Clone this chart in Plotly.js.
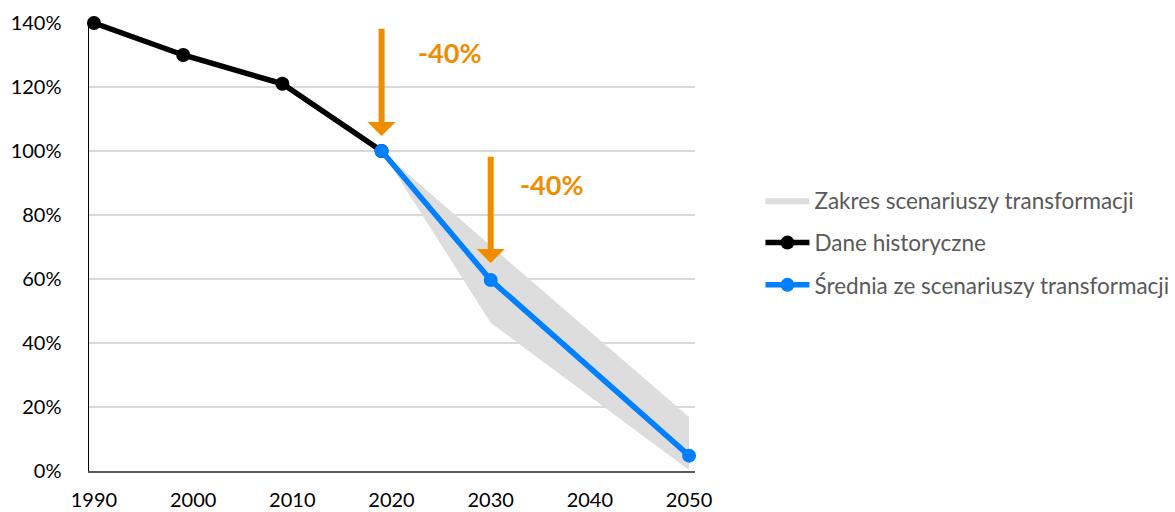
<!DOCTYPE html>
<html>
<head>
<meta charset="utf-8">
<script src="https://cdn.plot.ly/plotly-3.0.1.min.js"></script>
<style>html,body{margin:0;padding:0;background:#fff;}#chart{width:1175px;height:512px;}</style>
</head>
<body>
<div id="chart"></div>
<script>
// ---- data ----
const histYears = [1990, 1999, 2009, 2019];
const histValues = [140, 130, 121, 100];
const avgYears = [2019, 2030, 2050];
const avgValues = [100, 59.7, 4.8];
const bandYears = [2019, 2030, 2050];
const bandUpper = [100, 70.4, 16.9];
const bandLower = [100, 46.3, 0.3];
const xTickVals = [1990, 2000, 2010, 2020, 2030, 2040, 2050];
const yTickVals = [0, 20, 40, 60, 80, 100, 120, 140];
const seriesNames = ['Zakres scenariuszy transformacji', 'Dane historyczne', 'Średnia ze scenariuszy transformacji'];
const arrowYears = [2019, 2030];
const arrowFrom = [138.7, 98.7];
const arrowTo = [104.7, 65.0];
const labelYears = [2025.9, 2036.2];
const labelValues = [130.9, 89.4];
const labelTexts = ['-40%', '-40%'];

const FONT = 'Lato, "Open Sans", sans-serif';
const ORANGE = '#F08C00';

const bandX = bandYears.concat(bandYears.slice().reverse());
const bandY = bandUpper.concat(bandLower.slice().reverse());

const traces = [
  {
    x: bandX, y: bandY, type: 'scatter', mode: 'lines', fill: 'toself',
    fillcolor: '#DDDDDD', line: {width: 0, color: '#DDDDDD'},
    name: seriesNames[0], legendgroup: 'a', hoverinfo: 'skip'
  },
  {
    x: histYears, y: histValues, type: 'scatter', mode: 'lines+markers',
    line: {color: '#000000', width: 5.5}, marker: {color: '#000000', size: 14},
    name: seriesNames[1], legendgroup: 'b', cliponaxis: false
  },
  {
    x: avgYears, y: avgValues, type: 'scatter', mode: 'lines+markers',
    line: {color: '#0080FF', width: 5.5}, marker: {color: '#0080FF', size: 14},
    name: seriesNames[2], legendgroup: 'c', cliponaxis: false
  }
];

const annotations = [];
for (let i = 0; i < arrowYears.length; i++) {
  annotations.push({
    x: arrowYears[i], y: arrowTo[i], xref: 'x', yref: 'y',
    ax: arrowYears[i], ay: arrowFrom[i], axref: 'x', ayref: 'y',
    text: '', showarrow: true, arrowhead: 1, arrowsize: 0.78, arrowwidth: 6,
    arrowcolor: ORANGE
  });
  annotations.push({
    x: labelYears[i], y: labelValues[i], xref: 'x', yref: 'y',
    text: '<b>' + labelTexts[i] + '</b>', showarrow: false,
    font: {family: FONT, size: 27, color: ORANGE}
  });
}

const layout = {
  width: 1175, height: 512, autosize: false,
  margin: {l: 89, r: 480, t: 23, b: 41, pad: 0},
  paper_bgcolor: '#ffffff', plot_bgcolor: '#ffffff',
  showlegend: true,
  legend: {
    xref: 'container', yref: 'container', x: 0.6472, y: 0.650,
    xanchor: 'left', yanchor: 'top',
    traceorder: 'grouped', tracegroupgap: 10, itemwidth: 44,
    font: {family: FONT, size: 22.5, color: '#595959'},
    bgcolor: 'rgba(0,0,0,0)'
  },
  xaxis: {
    type: 'linear', range: [1989.5, 2050.6],
    tickvals: xTickVals, ticktext: xTickVals.map(String),
    showgrid: false, zeroline: false, showline: true,
    linecolor: '#595959', linewidth: 2, ticks: '',
    ticklabelstandoff: 10,
    tickfont: {family: FONT, size: 20, color: '#000000'}
  },
  yaxis: {
    range: [0, 140],
    tickvals: yTickVals, ticktext: yTickVals.map(v => v + '%'),
    showgrid: true, gridcolor: '#D9D9D9', gridwidth: 1.5,
    zeroline: false, showline: true, linecolor: '#000000', linewidth: 1.5,
    ticks: '', ticklabelstandoff: 22,
    tickfont: {family: FONT, size: 20, color: '#000000'}
  },
  annotations: annotations
};

Plotly.newPlot('chart', traces, layout, {displayModeBar: false, staticPlot: true});
</script>
</body>
</html>
